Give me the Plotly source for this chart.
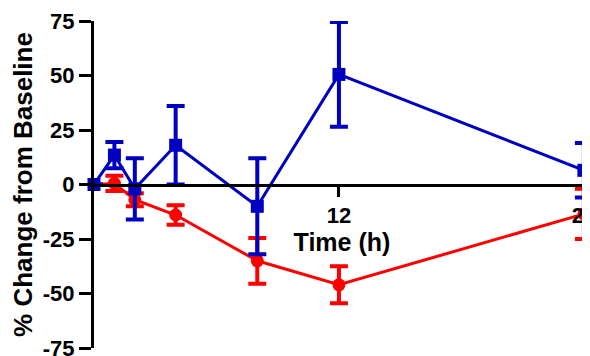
import plotly.graph_objects as go

time_h = [0, 1, 2, 4, 8, 12, 24]

blue_vals = [0, 13.5, -2, 18, -10, 50.5, 6.5]
blue_err = [0, 6, 14, 18, 22, 24, 12.5]

red_vals = [0, 0.5, -7, -14, -35, -46, -13.5]
red_err = [0, 3.5, 3, 4.5, 10.5, 8.5, 11.5]

y_ticks = [-75, -50, -25, 0, 25, 50, 75]
x_ticks = [12, 24]

BLUE = "#0000C0"
RED = "#FF0000"

fig = go.Figure()

fig.add_trace(go.Scatter(
    x=time_h, y=red_vals, mode="lines+markers",
    line=dict(color=RED, width=3),
    marker=dict(symbol="circle", size=13, color=RED),
    error_y=dict(type="data", array=red_err, color=RED, thickness=4, width=9),
    cliponaxis=False, showlegend=False,
))
fig.add_trace(go.Scatter(
    x=time_h, y=blue_vals, mode="lines+markers",
    line=dict(color=BLUE, width=3),
    marker=dict(symbol="square", size=13, color=BLUE),
    error_y=dict(type="data", array=blue_err, color=BLUE, thickness=4, width=9),
    cliponaxis=False, showlegend=False,
))

# the page body has an 8px margin, so the plot area is shifted up/left by 8px
fig.update_layout(
    width=590, height=356,
    margin=dict(l=86, r=8, t=13, b=16),
    plot_bgcolor="white", paper_bgcolor="white",
    font=dict(family="Liberation Sans, Arial, sans-serif", size=22, color="black"),
    xaxis=dict(
        range=[0, 24.3], anchor="free", position=0.5,
        tickvals=x_ticks, ticktext=[f"<b>{v}</b>" for v in x_ticks],
        ticks="outside", ticklen=10, tickwidth=3, tickcolor="black",
        ticklabeloverflow="allow",
        showline=True, linecolor="black", linewidth=3,
        showgrid=False, zeroline=False, automargin=False,
        title=dict(text="<b>Time (h)</b>", font=dict(size=25), standoff=6),
    ),
    yaxis=dict(
        range=[-75, 75],
        tickvals=y_ticks, ticktext=[f"<b>{v}</b>" for v in y_ticks],
        ticks="outside", ticklen=12, tickwidth=3, tickcolor="black",
        showline=True, linecolor="black", linewidth=3,
        showgrid=False, zeroline=False, automargin=False,
        title=dict(text="<b>% Change from Baseline</b>", font=dict(size=26), standoff=10),
    ),
)

fig.write_html("out.html")
